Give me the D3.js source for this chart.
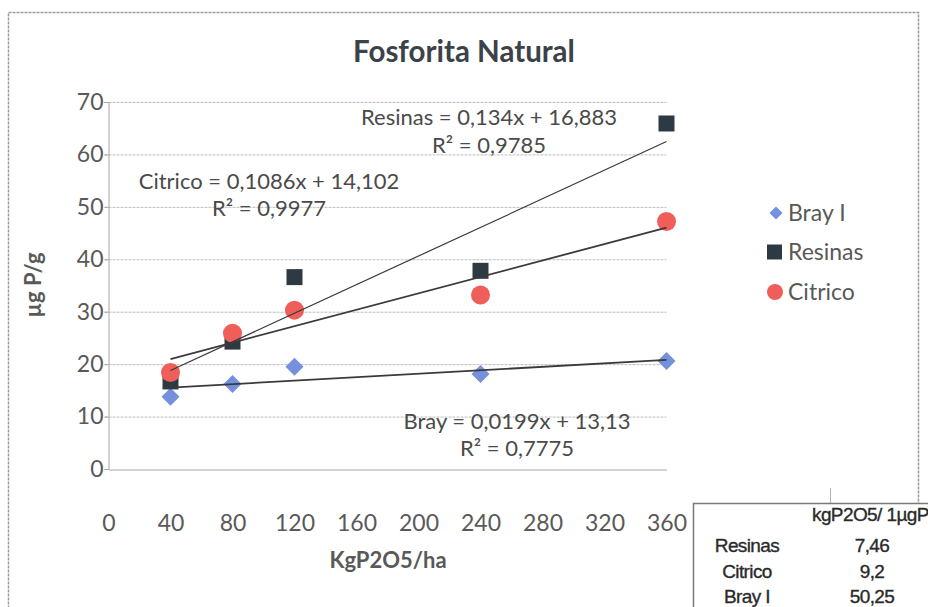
<!DOCTYPE html>
<html>
<head>
<meta charset="utf-8">
<script src="https://cdn.jsdelivr.net/npm/d3@7"></script>
<style>
  html, body { margin: 0; padding: 0; background: #fff; }
  svg { display: block; }
</style>
</head>
<body>
<svg id="chart" width="928" height="607"></svg>
<script>
// Dose of P2O5 (kg/ha) and extracted phosphorus (µg P/g) per method
const doses = [40, 80, 120, 240, 360];
const brayValues = [13.8, 16.2, 19.5, 18.1, 20.6];
const resinasValues = [16.7, 24.3, 36.6, 37.8, 65.9];
const citricoValues = [18.4, 25.9, 30.3, 33.2, 47.2];

const xTicks = [0, 40, 80, 120, 160, 200, 240, 280, 320, 360];
const yTicks = [0, 10, 20, 30, 40, 50, 60, 70];

const seriesNames = ["Bray I", "Resinas", "Citrico"];
const equationLabels = [
  ["Bray = 0,0199x + 13,13", "R² = 0,7775"],
  ["Resinas = 0,134x + 16,883", "R² = 0,9785"],
  ["Citrico = 0,1086x + 14,102", "R² = 0,9977"]
];

// Summary table: kg P2O5 needed per 1 µg P
const tableHeader = "kgP2O5/ 1µgP";
const tableRows = ["Resinas", "Citrico", "Bray I"];
const tableValues = ["7,46", "9,2", "50,25"];

const svg = d3.select("#chart");
const FONT = "Lato, 'Open Sans', sans-serif";
const TEXT = "#595959";

svg.append("rect").attr("width", 928).attr("height", 607).attr("fill", "#fff");

// outer chart frame
svg.append("rect")
  .attr("x", 8.5).attr("y", 12.5).attr("width", 910).attr("height", 640)
  .attr("fill", "none").attr("stroke", "#9c9c9c").attr("stroke-width", 1.5)
  .attr("stroke-dasharray", "3,1");

const x = d3.scaleLinear().domain([0, 360]).range([108.5, 666.5]);
const y = d3.scaleLinear().domain([0, 70]).range([469, 102]);

// title
svg.append("text")
  .attr("x", 464).attr("y", 62)
  .attr("text-anchor", "middle")
  .attr("font-family", FONT).attr("font-weight", "bold").attr("font-size", 29.5)
  .attr("fill", "#3b4248")
  .text("Fosforita Natural");

// horizontal gridlines
svg.append("g").selectAll("line")
  .data(yTicks.filter(d => d > 0))
  .join("line")
  .attr("x1", x(0) - 4).attr("x2", x(360))
  .attr("y1", d => y(d) + 0.5).attr("y2", d => y(d) + 0.5)
  .attr("stroke", "#bdbdbd").attr("stroke-width", 1)
  .attr("stroke-dasharray", "3,1");

// y axis
const yAxis = svg.append("g")
  .attr("transform", `translate(${x(0)},0)`)
  .call(d3.axisLeft(y).tickValues(yTicks).tickSize(4).tickPadding(1));
yAxis.select(".domain").attr("stroke", "#a6a6a6");
yAxis.selectAll(".tick line").attr("stroke", "#a6a6a6");
yAxis.selectAll("text")
  .attr("font-family", FONT).attr("font-size", 23).attr("fill", TEXT);

// x axis
const xAxis = svg.append("g")
  .attr("transform", `translate(0,${y(0) + 0.5})`)
  .call(d3.axisBottom(x).tickValues(xTicks).tickSize(0).tickPadding(45));
xAxis.select(".domain").attr("stroke", "#a6a6a6");
xAxis.selectAll("text")
  .attr("font-family", FONT).attr("font-size", 23).attr("fill", TEXT);

// axis titles
svg.append("text")
  .attr("x", 388).attr("y", 568)
  .attr("text-anchor", "middle")
  .attr("font-family", FONT).attr("font-weight", "bold").attr("font-size", 22)
  .attr("fill", TEXT)
  .text("KgP2O5/ha");

svg.append("text")
  .attr("transform", "translate(41,285) rotate(-90)")
  .attr("text-anchor", "middle")
  .attr("font-family", FONT).attr("font-weight", "bold").attr("font-size", 22)
  .attr("fill", TEXT)
  .text("µg P/g");

// markers
const BRAY = "#7590dc", RES = "#2e3a43", CIT = "#f05e59";
const pts = (vals) => doses.map((d, i) => ({ x: d, y: vals[i] }));

svg.append("g").selectAll("path")
  .data(pts(brayValues))
  .join("path")
  .attr("transform", d => `translate(${x(d.x)},${y(d.y)})`)
  .attr("d", "M0,-9L9,0L0,9L-9,0Z")
  .attr("fill", BRAY);

svg.append("g").selectAll("rect")
  .data(pts(resinasValues))
  .join("rect")
  .attr("x", d => x(d.x) - 8).attr("y", d => y(d.y) - 8)
  .attr("width", 16).attr("height", 16)
  .attr("fill", RES);

svg.append("g").selectAll("circle")
  .data(pts(citricoValues))
  .join("circle")
  .attr("cx", d => x(d.x)).attr("cy", d => y(d.y)).attr("r", 9.5)
  .attr("fill", CIT);

// least-squares trendlines over the dose range
function fit(vals) {
  const mx = d3.mean(doses), my = d3.mean(vals);
  const sxy = d3.sum(doses, (d, i) => (d - mx) * (vals[i] - my));
  const sxx = d3.sum(doses, d => (d - mx) * (d - mx));
  const b = sxy / sxx;
  return { b, a: my - b * mx };
}
const x0 = d3.min(doses), x1 = d3.max(doses);
[[brayValues, 1.8], [resinasValues, 1.2], [citricoValues, 1.8]].forEach(([vals, w]) => {
  const f = fit(vals);
  svg.append("line")
    .attr("x1", x(x0)).attr("y1", y(f.a + f.b * x0))
    .attr("x2", x(x1)).attr("y2", y(f.a + f.b * x1))
    .attr("stroke", "#3a3a3a").attr("stroke-width", w);
});

// trendline equations (centre x, first baseline, second baseline)
const eqPos = [[517, 429, 456], [489, 125, 153], [269, 189, 216]];
equationLabels.forEach((lines, i) => {
  const p = eqPos[i];
  lines.forEach((t, j) => {
    svg.append("text").attr("x", p[0]).attr("y", p[1 + j])
      .attr("text-anchor", "middle").attr("font-family", FONT).attr("font-size", 22)
      .attr("fill", "#4a4a4a").text(t);
  });
});

// legend
const legendY = [213, 252, 292];
const lg = svg.append("g");
lg.append("path").attr("transform", `translate(776,${legendY[0]})`)
  .attr("d", "M0,-6.5L6.5,0L0,6.5L-6.5,0Z").attr("fill", BRAY);
lg.append("rect").attr("x", 767).attr("y", legendY[1] - 7.5)
  .attr("width", 15).attr("height", 15).attr("fill", RES);
lg.append("circle").attr("cx", 775).attr("cy", legendY[2]).attr("r", 8).attr("fill", CIT);
seriesNames.forEach((n, i) => {
  lg.append("text").attr("x", 788).attr("y", legendY[i])
    .attr("dy", "0.35em")
    .attr("font-family", FONT).attr("font-size", 23).attr("fill", TEXT)
    .text(n);
});

// summary table
const TF = "'Liberation Sans', Arial, sans-serif";
const tb = svg.append("g");
tb.append("line").attr("x1", 830.5).attr("x2", 830.5).attr("y1", 488).attr("y2", 503)
  .attr("stroke", "#b0b0b0").attr("stroke-width", 1);
tb.append("rect").attr("x", 693.5).attr("y", 503.5).attr("width", 260).attr("height", 120)
  .attr("fill", "#fff").attr("stroke", "#7a7a7a").attr("stroke-width", 1.5);
const cell = (t, xx, yy, anchor) => tb.append("text").attr("x", xx).attr("y", yy)
  .attr("text-anchor", anchor)
  .attr("font-family", TF).attr("font-size", 19).attr("fill", "#2a2a2a")
  .attr("stroke", "#2a2a2a").attr("stroke-width", 0.35)
  .attr("letter-spacing", -0.6).text(t);
cell(tableHeader, 812, 521, "start");
tableRows.forEach((r, i) => {
  const by = 552 + i * 25.5;
  cell(r, 747, by, "middle");
  cell(tableValues[i], 872, by, "middle");
});
</script>
</body>
</html>
